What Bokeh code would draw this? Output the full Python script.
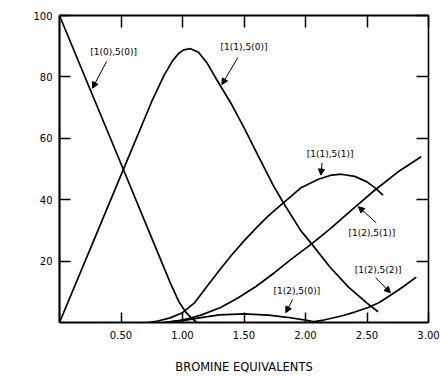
import math
from bokeh.plotting import figure
from bokeh.models import (Range1d, LinearAxis, FixedTicker, Label, Arrow, NormalHead)
from bokeh.embed import file_html
from bokeh.resources import INLINE

# ---- data ----
x_ticks = [0.5, 1.0, 1.5, 2.0, 2.5, 3.0]
x_tick_labels = ["0.50", "1.00", "1.50", "2.00", "2.50", "3.00"]
y_ticks = [20, 40, 60, 80, 100]
y_tick_labels = ["20", "40", "60", "80", "100"]

a_x = [0, 0.25, 0.5, 0.75, 0.9, 0.97, 1.03, 1.08, 1.12]
a_y = [100, 75.8, 51.7, 27.5, 13, 6.8, 3.2, 1.2, 0]

b_x = [0, 0.25, 0.5, 0.75, 0.85, 0.92, 0.97, 1.01, 1.065, 1.13, 1.2, 1.28, 1.4, 1.5, 1.6,
       1.74, 1.82, 1.96, 2.05, 2.2, 2.35, 2.5, 2.59]
b_y = [0, 24, 48, 72, 80.5, 85.3, 87.7, 88.8, 89.2, 88, 84.5, 79, 71, 63.5, 55.5,
       44.5, 39, 30, 25.6, 18, 11.5, 6.3, 3.5]

c_x = [0.72, 0.8, 0.9, 1.0, 1.1, 1.2, 1.3, 1.4, 1.5, 1.6, 1.7, 1.82, 1.96, 2.1,
       2.2, 2.29, 2.4, 2.5, 2.56, 2.63]
c_y = [0, 0.5, 1.5, 3.2, 6.5, 11.8, 17, 22, 26.6, 30.8, 34.8, 39, 43.8, 46.6,
       47.9, 48.3, 47.6, 45.8, 44, 41.5]

d_x = [0.85, 0.95, 1.05, 1.15, 1.31, 1.45, 1.6, 1.75, 1.88, 2.05, 2.2, 2.4, 2.56,
       2.75, 2.94]
d_y = [0, 0.5, 1.3, 2.4, 4.9, 8, 11.8, 16.3, 20.5, 25.6, 30.5, 37.5, 43,
       49, 54]

e_x = [0.85, 1.0, 1.15, 1.3, 1.5, 1.7, 1.85, 2.0, 2.1]
e_y = [0, 0.6, 1.6, 2.5, 2.8, 2.4, 1.7, 0.8, 0]

f_x = [2.02, 2.15, 2.3, 2.4, 2.51, 2.6, 2.7, 2.8, 2.9]
f_y = [0, 0.8, 2.2, 3.4, 4.9, 6.5, 9.1, 11.8, 14.8]

series_labels = ["[1(0),5(0)]", "[1(1),5(0)]", "[1(1),5(1)]",
                 "[1(2),5(1)]", "[1(2),5(0)]", "[1(2),5(2)]"]

FONT = "DejaVu Sans"

p = figure(width=440, height=376, output_backend="svg", toolbar_location=None,
           x_range=Range1d(0, 3.0), y_range=Range1d(0, 100),
           min_border_left=59, min_border_right=12, min_border_top=15,
           min_border_bottom=53, background_fill_color="white",
           border_fill_color="white", outline_line_color=None)
p.xgrid.visible = False
p.ygrid.visible = False

for xs, ys in [(a_x, a_y), (b_x, b_y), (c_x, c_y), (d_x, d_y), (e_x, e_y), (f_x, f_y)]:
    p.line(xs, ys, line_color="black", line_width=1.7, line_join="round")

# bottom axis
xa = p.xaxis[0]
xa.ticker = FixedTicker(ticks=x_ticks)
xa.major_label_overrides = {t: l for t, l in zip(x_ticks, x_tick_labels)}
xa.major_tick_in = 10
xa.major_tick_out = 0
xa.minor_tick_in = 0
xa.minor_tick_out = 0
xa.axis_line_width = 2.2
xa.axis_line_color = "black"
xa.major_tick_line_color = "black"
xa.major_tick_line_width = 1.5
xa.major_label_standoff = 8
xa.major_label_text_font = FONT
xa.major_label_text_font_size = "10px"
xa.major_label_text_color = "black"
xa.axis_label = "BROMINE EQUIVALENTS"
xa.axis_label_text_font = FONT
xa.axis_label_text_font_style = "normal"
xa.axis_label_text_font_size = "11.5px"
xa.axis_label_text_color = "black"
xa.axis_label_standoff = 18

# left axis
ya = p.yaxis[0]
ya.ticker = FixedTicker(ticks=y_ticks)
ya.major_label_overrides = {t: l for t, l in zip(y_ticks, y_tick_labels)}
ya.major_tick_in = 11
ya.major_tick_out = 0
ya.minor_tick_in = 0
ya.minor_tick_out = 0
ya.axis_line_width = 2.2
ya.axis_line_color = "black"
ya.major_tick_line_color = "black"
ya.major_tick_line_width = 1.5
ya.major_label_standoff = 7
ya.major_label_text_font = FONT
ya.major_label_text_font_size = "10px"
ya.major_label_text_color = "black"

# top axis (ticks only, labels not drawn)
ta = LinearAxis(ticker=FixedTicker(ticks=x_ticks), major_tick_in=12, major_tick_out=0,
                minor_tick_in=0, minor_tick_out=0, axis_line_width=2.2,
                axis_line_color="black", major_tick_line_color="black",
                major_tick_line_width=1.5, major_label_text_font_size="1px",
                major_label_text_color=None, major_label_standoff=0)
p.add_layout(ta, "above")

# right axis (ticks only, labels not drawn)
ra = LinearAxis(ticker=FixedTicker(ticks=y_ticks), major_tick_in=12, major_tick_out=0,
                minor_tick_in=0, minor_tick_out=0, axis_line_width=1.6,
                axis_line_color="black", major_tick_line_color="black",
                major_tick_line_width=1.5, major_label_text_font_size="1px",
                major_label_text_color=None, major_label_standoff=0)
p.add_layout(ra, "right")

# y axis title
p.add_layout(Label(x=-0.35, y=45, text="CONCENTRATION, MOL %", angle=math.pi / 2,
                   text_align="center", text_baseline="middle", text_font=FONT,
                   text_font_size="11px", text_color="black"))

# curve labels with arrows
label_specs = [
    (series_labels[0], 0.44, 88, (0.382, 85), (0.268, 76.3)),
    (series_labels[1], 1.50, 89.6, (1.45, 86.3), (1.32, 77.5)),
    (series_labels[2], 2.20, 55, (2.135, 52), (2.125, 48)),
    (series_labels[3], 2.54, 29, (2.575, 32.5), (2.43, 37.7)),
    (series_labels[4], 1.93, 10.4, (1.895, 7.5), (1.84, 3.2)),
    (series_labels[5], 2.59, 17.2, (2.57, 14.6), (2.69, 9.7)),
]
for text, lx, ly, s, e in label_specs:
    p.add_layout(Label(x=lx, y=ly, text=text, text_align="center",
                       text_baseline="middle", text_font=FONT,
                       text_font_size="9px", text_color="black"))
    p.add_layout(Arrow(x_start=s[0], y_start=s[1], x_end=e[0], y_end=e[1],
                       line_width=1, line_color="black",
                       end=NormalHead(size=6, fill_color="black", line_color="black")))

open("out.html", "w").write(file_html(p, INLINE))
